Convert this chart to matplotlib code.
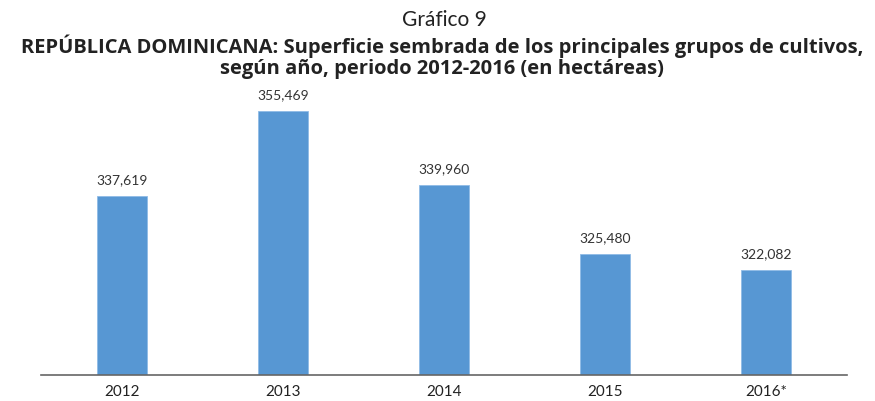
import matplotlib.pyplot as plt
import numpy as np

plt.rcParams['font.family'] = ['Lato', 'DejaVu Sans']

years = ["2012", "2013", "2014", "2015", "2016*"]
superficie = [337619, 355469, 339960, 325480, 322082]
labels = ["337,619", "355,469", "339,960", "325,480", "322,082"]

fig = plt.figure(figsize=(8.75, 4.01), dpi=100)
ax = fig.add_axes([0.0469, 0.0648, 0.921, 0.7132])

x = np.arange(len(years))
ax.bar(x, superficie, width=0.31, color="#5797d3", edgecolor="#8fbbe6", linewidth=0.6, zorder=2)
for xi, v, lab in zip(x, superficie, labels):
    ax.annotate(lab, (xi, v), xytext=(0, 7), textcoords="offset points",
                ha="center", va="bottom", fontsize=10, color="#333333")

ax.set_xlim(-0.5, len(years) - 0.5)
ax.set_ylim(300000, 360000)
ax.set_xticks(x)
ax.set_xticklabels(years, fontsize=11, color="#222222")
ax.tick_params(axis="x", length=0, pad=7)
ax.set_yticks([])
for s in ["top", "right", "left"]:
    ax.spines[s].set_visible(False)
ax.spines["bottom"].set_color("#666666")
ax.spines["bottom"].set_linewidth(1.2)

# titulo
fig.text(0.508, 0.950, "Gráfico 9", ha="center", va="center", fontsize=15,
         color="#222222")
titulo = ["REPÚBLICA DOMINICANA: Superficie sembrada de los principales grupos de cultivos,",
          "según año, periodo 2012-2016 (en hectáreas)"]
for yy, linea in zip([0.884, 0.829], titulo):
    fig.text(0.505, yy, linea, ha="center", va="center", fontsize=14.5, fontweight="bold",
             family=["Open Sans", "DejaVu Sans"], color="#222222")

fig.savefig("out.png", dpi=100)
